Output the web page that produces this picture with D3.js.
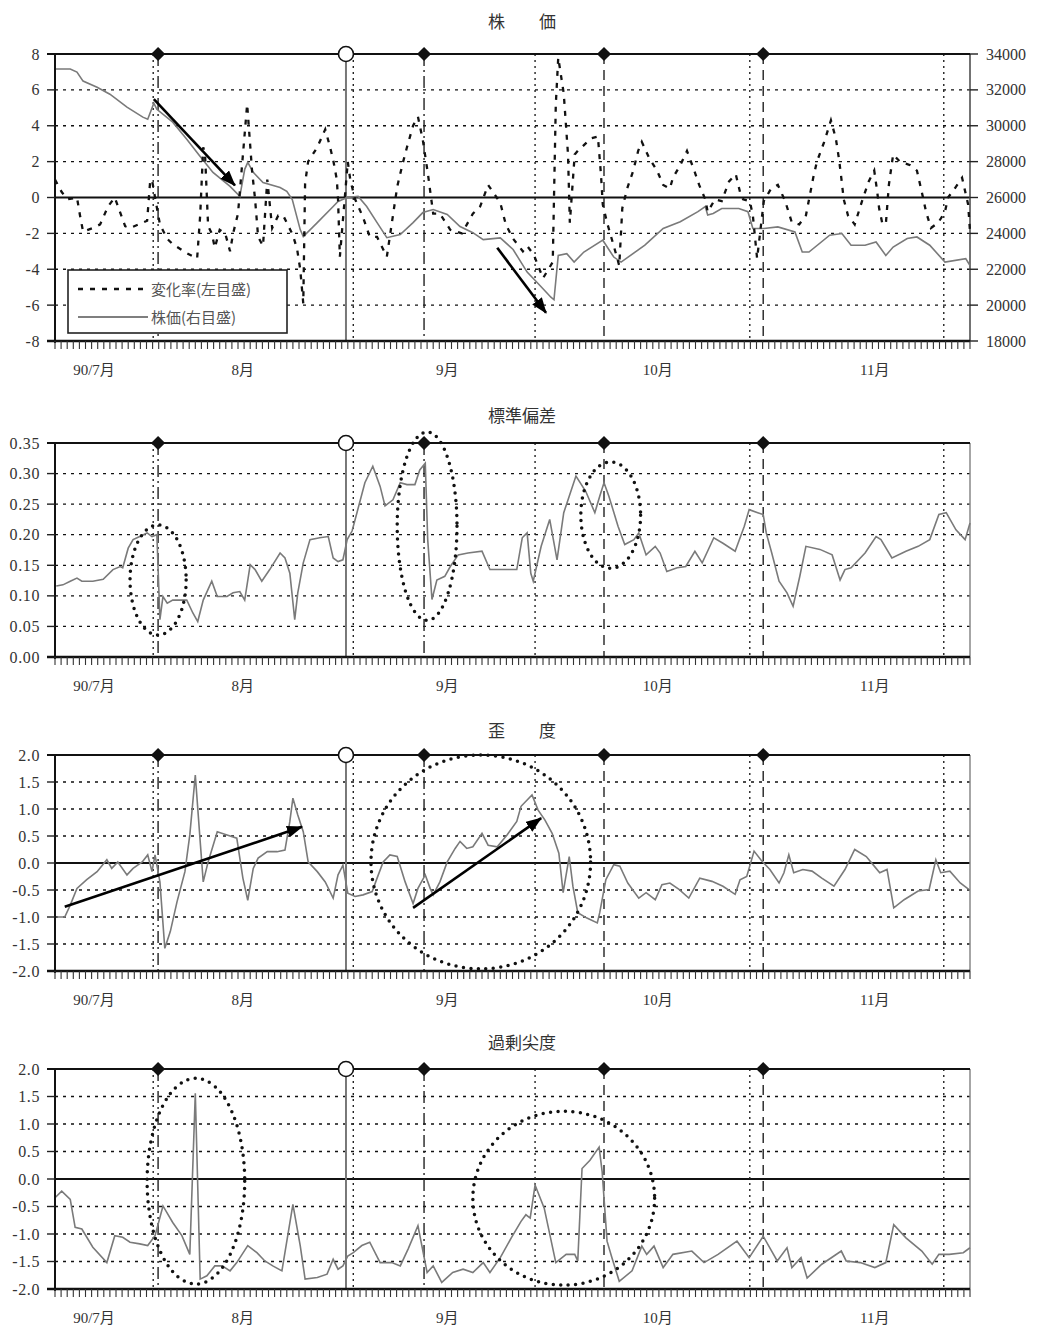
<!DOCTYPE html>
<html>
<head>
<meta charset="utf-8">
<script src="https://cdn.jsdelivr.net/npm/d3@7"></script>
<style>
body { margin: 0; background: #fff; }
text { font-family: "Liberation Serif", "Noto Sans CJK JP", serif; fill: #222; }
.jp { font-family: "Noto Sans CJK JP", sans-serif; }
</style>
</head>
<body>
<script>
// x positions are trading-day slots 0..150
var monthLabels = ["90/7月", "8月", "9月", "10月", "11月"];
var monthPos = [6.4, 30.8, 64.3, 98.8, 134.4];

// event lines and the markers on the top border
var eventPos = [16.1, 16.9, 47.7, 48.9, 60.5, 78.7, 90.0, 113.9, 116.1, 145.7];
var eventStyle = ["dot", "dashdot", "solid", "dot", "dashdot", "dot", "dash", "dot", "dash", "dot"];
var markerPos = [16.9, 47.7, 60.5, 90.0, 116.1];
var markerKind = ["diamond", "circle", "diamond", "diamond", "diamond"];

// 株価 (right axis)
var stockPrice = [[0,33160],[2.5,33160],[3.6,32990],[4.6,32490],[6.9,32150],[9.0,31760],[11.8,31040],[14.4,30480],
  [15.2,30360],[16.2,31260],[16.7,30920],[19.3,30200],[21.6,29250],[23.8,28290],[25.9,27400],[28.7,26620],[30.3,26060],
  [31.1,27570],[31.6,27960],[32.5,27400],[34.1,26840],[36.9,26560],[38.0,26340],[38.9,25890],[40.2,24210],[40.7,23820],
  [43.0,24600],[45.6,25500],[46.4,25780],[47.9,26000],[49.7,26060],[51.1,25500],[52.8,24600],[54.4,23760],[56.6,23930],
  [58.7,24600],[60.3,25160],[62.0,25330],[64.3,25050],[66.4,24380],[68.5,24040],[70.2,23650],[73.0,23750],[75.1,23100],
  [77.4,21840],[79.5,21090],[81.3,20440],[81.8,20300],[82.5,22770],[83.9,22870],[85.1,22400],[86.7,22960],[89.8,23620],
  [91.6,22680],[92.8,22400],[96.7,23340],[99.7,24270],[102.5,24650],[105.4,25210],[106.6,25490],[107.0,25020],[107.9,25110],
  [109.3,25390],[112.1,25390],[113.6,25210],[114.4,24270],[116.2,24270],[118.5,24360],[121.3,24080],[122.5,22960],
  [123.6,22960],[127.0,23900],[129.0,23990],[130.5,23340],[132.8,23340],[134.6,23520],[136.2,22770],[137.4,23240],
  [139.7,23710],[141.3,23800],[143.4,23340],[145.9,22400],[149.3,22590],[150,22210]];

// 変化率 (left axis)
var changeRate = [[0,1.0],[1.1,0.3],[2.1,-0.1],[3.6,0.0],[4.1,-1.0],[4.6,-1.9],[6.2,-1.7],[7.4,-1.5],[8.7,-0.5],[9.8,0.0],
  [11.5,-1.6],[12.3,-1.7],[15.1,-1.3],[15.6,0.9],[15.9,1.0],[16.4,0.0],[17.2,-1.5],[18.4,-2.3],[19.3,-2.6],[21.6,-3.1],
  [23.3,-3.4],[23.8,-1.0],[24.3,2.8],[24.6,2.4],[25.1,-1.6],[25.7,-2.0],[26.2,-2.8],[27.0,-1.8],[27.9,-2.0],[28.7,-3.0],
  [29.2,-2.0],[30.0,-0.9],[31.5,5.2],[32.0,2.9],[32.3,1.5],[32.8,-0.1],[33.3,-2.2],[34.1,-2.7],[34.8,1.0],[35.6,-1.7],
  [36.6,-1.0],[37.4,-1.0],[39.0,-2.1],[39.7,-2.9],[40.2,-4.0],[40.7,-5.9],[41.0,0.8],[41.5,2.0],[43.0,2.8],[44.3,3.8],
  [45.1,2.8],[45.6,2.1],[46.2,1.0],[46.4,-0.1],[46.7,-3.3],[48.0,2.0],[48.4,1.0],[49.2,-0.1],[50.5,-1.1],[51.6,-2.2],
  [52.8,-2.2],[54.4,-3.3],[56.1,0.6],[57.0,1.9],[57.7,2.8],[58.7,4.0],[59.5,4.5],[60.3,3.2],[61.1,1.4],[62.0,-0.9],
  [63.1,-0.9],[64.8,-1.8],[66.7,-2.0],[68.5,-0.9],[69.7,-0.5],[71.0,0.7],[73.0,-0.3],[73.9,-1.5],[75.1,-2.3],[76.7,-3.0],
  [77.4,-2.7],[78.5,-3.2],[80.0,-4.5],[81.6,-3.6],[82.1,5.2],[82.5,7.8],[83.4,5.8],[84.1,2.4],[84.4,-1.4],[85.2,2.4],
  [85.7,2.6],[87.9,3.3],[89.0,3.4],[89.5,1.3],[89.8,-0.4],[90.5,-1.4],[91.6,-2.7],[92.5,-3.8],[93.0,-0.6],[93.8,0.5],
  [94.8,1.5],[95.6,2.6],[96.2,3.1],[97.4,2.2],[98.7,1.5],[99.7,0.7],[100.8,0.5],[101.3,1.1],[102.5,1.8],[103.6,2.6],
  [104.8,1.5],[105.6,0.7],[106.6,-0.1],[107.0,-0.8],[108.2,-0.1],[109.3,-0.2],[110.5,0.9],[111.6,1.3],[112.3,0.3],
  [112.8,-0.1],[113.9,-0.2],[114.4,-1.0],[115.1,-3.4],[116.2,-0.2],[117.4,0.5],[118.5,0.7],[119.7,-0.2],[120.8,-1.4],
  [122.0,-1.5],[123.1,-1.0],[124.3,1.1],[124.9,2.0],[126.1,3.1],[127.2,4.3],[128.0,3.3],[128.5,2.2],[128.9,1.1],
  [129.3,-0.1],[130.0,-1.0],[131.1,-1.5],[132.3,-0.2],[133.4,0.9],[134.3,1.5],[134.8,0.3],[135.1,-0.6],[135.6,-1.4],
  [136.2,-1.5],[136.7,0.7],[137.4,2.4],[138.5,2.0],[140.2,1.8],[141.3,1.5],[142.1,0.3],[142.8,-0.8],[143.6,-1.7],
  [144.8,-1.4],[145.9,-0.8],[146.4,0.0],[147.5,0.5],[148.7,1.1],[149.7,-0.4],[150,-1.9]];

// 標準偏差
var stdDev = [[0.2,0.116],[1.3,0.118],[2.5,0.124],[3.6,0.129],[4.4,0.124],[6.2,0.124],[7.9,0.127],[9.5,0.143],[10.7,0.148],
  [11.1,0.146],[12.0,0.178],[12.8,0.192],[13.9,0.197],[15.1,0.203],[15.9,0.197],[16.7,0.200],[17.2,0.061],[17.7,0.099],
  [18.4,0.088],[19.3,0.093],[21.6,0.093],[22.6,0.072],[23.4,0.058],[24.3,0.093],[25.7,0.124],[26.6,0.099],[28.2,0.099],
  [29.2,0.105],[30.3,0.107],[31.1,0.093],[32.0,0.151],[32.8,0.143],[33.9,0.124],[35.2,0.143],[36.9,0.170],[37.7,0.162],
  [38.5,0.137],[39.3,0.061],[39.8,0.105],[40.7,0.154],[41.8,0.192],[43.4,0.195],[44.8,0.197],[45.6,0.162],[46.4,0.156],
  [47.2,0.159],[47.9,0.192],[48.7,0.206],[49.5,0.236],[50.8,0.285],[52.1,0.312],[53.3,0.279],[54.1,0.247],[55.4,0.257],
  [56.6,0.285],[57.7,0.282],[59.0,0.282],[59.8,0.306],[60.7,0.317],[61.1,0.192],[61.8,0.094],[62.6,0.126],[63.9,0.132],
  [64.8,0.148],[66.1,0.167],[67.7,0.170],[70.0,0.173],[71.3,0.143],[73.0,0.143],[75.7,0.143],[76.6,0.195],[77.4,0.203],
  [78.0,0.137],[78.4,0.124],[79.7,0.181],[81.1,0.225],[82.3,0.159],[83.4,0.236],[84.3,0.263],[85.4,0.296],[87.0,0.271],
  [88.5,0.236],[89.3,0.263],[90.0,0.285],[90.8,0.263],[92.3,0.214],[93.4,0.184],[94.9,0.192],[95.7,0.203],[96.9,0.167],
  [98.4,0.181],[99.2,0.170],[100.3,0.140],[102.0,0.146],[103.4,0.148],[104.9,0.173],[106.1,0.154],[108.0,0.195],
  [109.5,0.186],[111.5,0.173],[113.0,0.214],[113.8,0.241],[115.2,0.236],[116.1,0.233],[116.6,0.203],[117.5,0.170],
  [118.7,0.124],[120.0,0.105],[121.0,0.083],[122.1,0.132],[123.1,0.181],[125.4,0.176],[127.4,0.167],[128.7,0.126],
  [129.5,0.143],[130.5,0.146],[132.8,0.170],[134.6,0.197],[135.4,0.192],[137.2,0.162],[139.5,0.173],[141.5,0.181],
  [143.4,0.192],[144.9,0.233],[146.1,0.236],[147.7,0.208],[149.2,0.192],[150,0.219]];

// 歪度
var skewness = [[0.3,-1.0],[1.6,-1.0],[2.5,-0.78],[3.6,-0.47],[5.2,-0.31],[6.9,-0.16],[8.5,0.06],[9.3,-0.10],[10.3,0.02],
  [11.8,-0.22],[12.8,-0.10],[14.3,0.02],[15.2,0.15],[15.9,-0.16],[16.4,0.15],[17.2,-0.35],[18.0,-1.58],[18.9,-1.27],
  [20.0,-0.72],[21.3,-0.16],[22.1,0.52],[23.0,1.63],[23.8,0.40],[24.3,-0.35],[25.1,0.02],[26.6,0.58],[28.2,0.52],
  [29.8,0.46],[30.8,-0.28],[31.6,-0.69],[32.5,-0.10],[33.3,0.09],[34.8,0.21],[36.4,0.21],[37.7,0.24],[38.5,0.77],
  [39.0,1.20],[39.8,0.89],[40.7,0.58],[41.5,0.02],[43.0,-0.16],[44.3,-0.35],[45.6,-0.65],[46.4,-0.22],[47.2,-0.04],
  [48.0,-0.56],[49.2,-0.62],[50.5,-0.59],[52.0,-0.53],[52.8,-0.28],[53.8,0.02],[54.9,0.15],[56.1,0.12],[57.4,-0.35],
  [58.7,-0.75],[59.5,-0.47],[60.7,-0.22],[61.5,-0.47],[62.0,-0.59],[63.1,-0.35],[64.3,0.02],[65.6,0.27],[66.4,0.40],
  [67.5,0.27],[68.5,0.30],[70.0,0.55],[71.0,0.33],[72.5,0.30],[74.1,0.52],[75.7,0.77],[76.4,1.05],[78.2,1.26],[79.2,0.98],
  [80.3,0.80],[81.5,0.55],[82.6,0.18],[83.3,-0.55],[84.3,0.12],[84.9,-0.43],[85.7,-0.92],[87.2,-1.02],[88.9,-1.11],
  [89.3,-0.92],[90.3,-0.31],[91.6,-0.03],[92.6,-0.06],[93.9,-0.37],[95.7,-0.65],[96.9,-0.55],[98.4,-0.68],[99.5,-0.40],
  [100.8,-0.37],[102.3,-0.49],[103.9,-0.65],[105.7,-0.28],[107.7,-0.34],[109.5,-0.43],[111.5,-0.58],[112.3,-0.31],
  [113.4,-0.25],[114.6,0.22],[115.7,0.06],[117.2,-0.12],[118.7,-0.37],[119.5,-0.18],[120.3,0.15],[121.1,-0.18],
  [122.6,-0.12],[124.1,-0.15],[125.7,-0.28],[127.7,-0.43],[129.5,-0.12],[131.1,0.25],[133.0,0.12],[134.1,-0.03],
  [135.2,-0.18],[136.4,-0.12],[137.5,-0.83],[139.2,-0.68],[141.5,-0.52],[143.3,-0.49],[144.4,0.06],[145.2,-0.18],
  [146.7,-0.15],[148.4,-0.37],[149.8,-0.49]];

// 過剰尖度
var kurtosis = [[0,-0.34],[1.1,-0.22],[2.5,-0.37],[3.3,-0.88],[4.4,-0.91],[6.2,-1.24],[8.5,-1.52],[9.8,-1.03],[11.1,-1.06],
  [12.3,-1.15],[13.9,-1.18],[15.2,-1.21],[16.4,-1.03],[17.7,-0.49],[19.3,-0.79],[20.8,-1.03],[22.1,-1.37],[23.0,1.56],
  [23.8,-1.82],[24.9,-1.76],[26.2,-1.58],[27.4,-1.58],[28.7,-1.67],[29.8,-1.52],[31.6,-1.21],[33.1,-1.34],[34.4,-1.49],
  [35.7,-1.58],[37.2,-1.67],[39.0,-0.46],[40.2,-1.21],[41.0,-1.82],[43.0,-1.79],[44.6,-1.73],[45.6,-1.46],[46.4,-1.64],
  [47.2,-1.58],[48.0,-1.40],[48.9,-1.34],[50.3,-1.21],[51.6,-1.15],[53.3,-1.52],[55.2,-1.52],[56.6,-1.58],[57.9,-1.27],
  [59.5,-0.85],[61.0,-1.70],[62.0,-1.58],[63.4,-1.88],[65.2,-1.70],[66.9,-1.64],[68.5,-1.70],[70.2,-1.52],[71.3,-1.70],
  [73.0,-1.43],[74.8,-1.07],[76.4,-0.77],[77.2,-0.65],[77.9,-0.71],[78.7,-0.11],[80.2,-0.53],[82.1,-1.52],[83.8,-1.37],
  [85.2,-1.37],[85.7,-1.49],[86.4,0.19],[87.7,0.34],[89.2,0.58],[89.7,0.13],[90.5,-1.13],[91.3,-1.43],[92.5,-1.86],
  [94.6,-1.67],[96.2,-1.22],[97.0,-1.37],[98.2,-1.22],[99.7,-1.61],[101.3,-1.37],[104.4,-1.31],[106.4,-1.52],[108.7,-1.37],
  [111.8,-1.13],[113.8,-1.43],[116.1,-1.04],[118.4,-1.49],[120.0,-1.25],[120.8,-1.61],[122.3,-1.43],[123.3,-1.80],
  [125.7,-1.55],[128.9,-1.31],[129.7,-1.49],[132.0,-1.52],[134.4,-1.61],[136.2,-1.52],[137.5,-0.83],[139.5,-1.07],
  [142.1,-1.31],[143.8,-1.55],[144.9,-1.37],[146.6,-1.37],[148.9,-1.34],[150,-1.25]];

// annotations: arrows [x0, y0, x1, y1], rings [cx, cy, rx, ry] in data units
var priceArrows = [[16.2, 5.48, 29.5, 0.67], [72.5, -2.8, 80.5, -6.43]];
var skewArrows = [[1.6, -0.81, 40.5, 0.67], [58.7, -0.83, 79.7, 0.83]];
var stdRings = [[16.9, 0.126, 4.6, 0.090], [61.0, 0.214, 4.9, 0.154], [91.1, 0.232, 4.9, 0.087]];
var skewRings = [[69.8, 0.02, 18.0, 1.98]];
var kurtRings = [[23.1, -0.04, 8.0, 1.87], [83.4, -0.35, 14.9, 1.58]];

var W = 1043, H = 1326;
var plotLeft = 55, plotRight = 970;

var x = d3.scaleLinear().domain([0, 150]).range([plotLeft, plotRight]);

var svg = d3.select("body").append("svg")
    .attr("width", W)
    .attr("height", H);

svg.append("defs").append("marker")
    .attr("id", "head")
    .attr("viewBox", "0 0 16 12")
    .attr("refX", 15)
    .attr("refY", 6)
    .attr("markerWidth", 16)
    .attr("markerHeight", 12)
    .attr("markerUnits", "userSpaceOnUse")
    .attr("orient", "auto")
    .append("path")
    .attr("d", "M0,0 L16,6 L0,12 Z")
    .attr("fill", "#000");

function hyphen(s) { return s.replace("\u2212", "-"); }

var panels = [
    {title: "株　　価", top: 54, bottom: 341, titleY: 28, domain: [-8, 8], ticks: d3.range(-8, 9, 2),
        fmt: function (d) { return hyphen(d3.format("d")(d)); }, zero: true,
        lines: [], arrows: priceArrows, rings: []},
    {title: "標準偏差", top: 443, bottom: 657, titleY: 422, domain: [0, 0.35], ticks: d3.range(0, 0.351, 0.05),
        fmt: d3.format(".2f"), zero: false, lines: [stdDev], arrows: [], rings: stdRings},
    {title: "歪　　度", top: 755, bottom: 971, titleY: 737, domain: [-2, 2], ticks: d3.range(-2, 2.01, 0.5),
        fmt: function (d) { return hyphen(d3.format(".1f")(d)); }, zero: true,
        lines: [skewness], arrows: skewArrows, rings: skewRings},
    {title: "過剰尖度", top: 1069, bottom: 1289, titleY: 1049, domain: [-2, 2], ticks: d3.range(-2, 2.01, 0.5),
        fmt: function (d) { return hyphen(d3.format(".1f")(d)); }, zero: true,
        lines: [kurtosis], arrows: [], rings: kurtRings}
];

var dashFor = {dot: "2,4", dashdot: "12,4,2,4", dash: "10,6", solid: null};

panels.forEach(function (p, pi) {
    var y = d3.scaleLinear().domain(p.domain).range([p.bottom, p.top]);
    var g = svg.append("g");

    // title
    g.append("text")
        .attr("class", "jp")
        .attr("x", 522)
        .attr("y", p.titleY)
        .attr("text-anchor", "middle")
        .style("font-size", "17px")
        .style("fill", "#333")
        .text(p.title);

    // horizontal gridlines
    p.ticks.forEach(function (t) {
        if (Math.abs(t - p.domain[0]) < 1e-9 || Math.abs(t - p.domain[1]) < 1e-9) return;
        var isZero = p.zero && Math.abs(t) < 1e-9;
        g.append("line")
            .attr("x1", plotLeft).attr("x2", plotRight)
            .attr("y1", y(t)).attr("y2", y(t))
            .attr("stroke", "#111")
            .attr("stroke-width", isZero ? 1.8 : 1.3)
            .attr("stroke-dasharray", isZero ? null : "3,5");
    });

    // event lines
    eventPos.forEach(function (e, i) {
        var st = eventStyle[i];
        g.append("line")
            .attr("x1", x(e)).attr("x2", x(e))
            .attr("y1", p.top).attr("y2", p.bottom)
            .attr("stroke", st == "solid" ? "#777" : "#222")
            .attr("stroke-width", st == "solid" ? 2 : 1.4)
            .attr("stroke-dasharray", dashFor[st]);
    });

    // right border
    g.append("line")
        .attr("x1", plotRight).attr("x2", plotRight)
        .attr("y1", p.top).attr("y2", p.bottom)
        .attr("stroke", pi == 0 ? "#444" : "#888")
        .attr("stroke-width", 1.5);

    // series
    var line = d3.line()
        .x(function (d) { return x(d[0]); })
        .y(function (d) { return y(d[1]); });

    if (pi == 0) {
        var yR = d3.scaleLinear().domain([18000, 34000]).range([p.bottom, p.top]);
        var priceLine = d3.line()
            .x(function (d) { return x(d[0]); })
            .y(function (d) { return yR(d[1]); });
        g.append("path")
            .datum(stockPrice)
            .attr("fill", "none")
            .attr("stroke", "#7a7a7a")
            .attr("stroke-width", 1.6)
            .attr("d", priceLine);
        g.append("path")
            .datum(changeRate)
            .attr("fill", "none")
            .attr("stroke", "#111")
            .attr("stroke-width", 2.3)
            .attr("stroke-dasharray", "5,7")
            .attr("d", line);

        // right axis
        d3.range(18000, 34001, 2000).forEach(function (t) {
            g.append("line")
                .attr("x1", plotRight).attr("x2", plotRight + 8)
                .attr("y1", yR(t)).attr("y2", yR(t))
                .attr("stroke", "#222").attr("stroke-width", 1.4);
            g.append("text")
                .attr("x", plotRight + 16)
                .attr("y", yR(t))
                .attr("dy", "0.35em")
                .style("font-size", "16px")
                .style("fill", "#333")
                .text(t);
        });

        // legend
        var lg = g.append("g").attr("transform", "translate(" + (plotLeft + 13) + "," + (p.top + 216) + ")");
        lg.append("rect")
            .attr("width", 219).attr("height", 63)
            .attr("fill", "#fff").attr("stroke", "#222").attr("stroke-width", 1.6);
        lg.append("line")
            .attr("x1", 10).attr("x2", 78).attr("y1", 19).attr("y2", 19)
            .attr("stroke", "#111").attr("stroke-width", 2.3).attr("stroke-dasharray", "5,7");
        lg.append("line")
            .attr("x1", 10).attr("x2", 80).attr("y1", 47).attr("y2", 47)
            .attr("stroke", "#555").attr("stroke-width", 1.4);
        lg.append("text").attr("class", "jp")
            .attr("x", 83).attr("y", 25).style("font-size", "15px").style("fill", "#555")
            .text("変化率(左目盛)");
        lg.append("text").attr("class", "jp")
            .attr("x", 83).attr("y", 53).style("font-size", "15px").style("fill", "#555")
            .text("株価(右目盛)");
    } else {
        p.lines.forEach(function (s) {
            g.append("path")
                .datum(s)
                .attr("fill", "none")
                .attr("stroke", "#7a7a7a")
                .attr("stroke-width", 1.6)
                .attr("d", line);
        });
    }

    // dotted rings
    p.rings.forEach(function (r) {
        g.append("ellipse")
            .attr("cx", x(r[0]))
            .attr("cy", y(r[1]))
            .attr("rx", x(r[2]) - x(0))
            .attr("ry", Math.abs(y(0) - y(r[3])))
            .attr("fill", "none")
            .attr("stroke", "#111")
            .attr("stroke-width", 3.5)
            .attr("stroke-linecap", "round")
            .attr("stroke-dasharray", "0,7.5");
    });

    // arrows
    p.arrows.forEach(function (a) {
        g.append("line")
            .attr("x1", x(a[0])).attr("y1", y(a[1]))
            .attr("x2", x(a[2])).attr("y2", y(a[3]))
            .attr("stroke", "#000")
            .attr("stroke-width", 2.6)
            .attr("marker-end", "url(#head)");
    });

    // left axis
    g.append("line")
        .attr("x1", plotLeft).attr("x2", plotLeft)
        .attr("y1", p.top).attr("y2", p.bottom + 2)
        .attr("stroke", "#111").attr("stroke-width", 2);
    p.ticks.forEach(function (t) {
        g.append("line")
            .attr("x1", plotLeft - 8).attr("x2", plotLeft)
            .attr("y1", y(t)).attr("y2", y(t))
            .attr("stroke", "#222").attr("stroke-width", 1.4);
        g.append("text")
            .attr("x", plotLeft - 15)
            .attr("y", y(t))
            .attr("dy", "0.35em")
            .attr("text-anchor", "end")
            .style("font-size", "16px")
            .style("letter-spacing", "0.6px")
            .style("fill", "#333")
            .text(p.fmt(t));
    });

    // top border
    g.append("line")
        .attr("x1", plotLeft - 8).attr("x2", plotRight)
        .attr("y1", p.top).attr("y2", p.top)
        .attr("stroke", "#111").attr("stroke-width", 2.2);

    // bottom axis with day ticks
    g.append("line")
        .attr("x1", plotLeft - 8).attr("x2", plotRight)
        .attr("y1", p.bottom).attr("y2", p.bottom)
        .attr("stroke", "#111").attr("stroke-width", 2.4);
    d3.range(0, 151, 1).forEach(function (t) {
        g.append("line")
            .attr("x1", x(t)).attr("x2", x(t))
            .attr("y1", p.bottom).attr("y2", p.bottom + 8)
            .attr("stroke", "#333").attr("stroke-width", 1.1);
    });
    monthLabels.forEach(function (m, i) {
        g.append("text")
            .attr("x", x(monthPos[i]))
            .attr("y", p.bottom + 34)
            .attr("text-anchor", "middle")
            .style("font-size", "15px")
            .style("fill", "#333")
            .text(m);
    });

    // markers on the top border
    markerPos.forEach(function (mp, i) {
        if (markerKind[i] == "circle") {
            g.append("circle")
                .attr("cx", x(mp)).attr("cy", p.top).attr("r", 7.5)
                .attr("fill", "#fff").attr("stroke", "#111").attr("stroke-width", 1.6);
        } else {
            g.append("path")
                .attr("transform", "translate(" + x(mp) + "," + p.top + ") rotate(45)")
                .attr("d", d3.symbol(d3.symbolSquare, 100)())
                .attr("fill", "#111");
        }
    });
});
</script>
</body>
</html>
